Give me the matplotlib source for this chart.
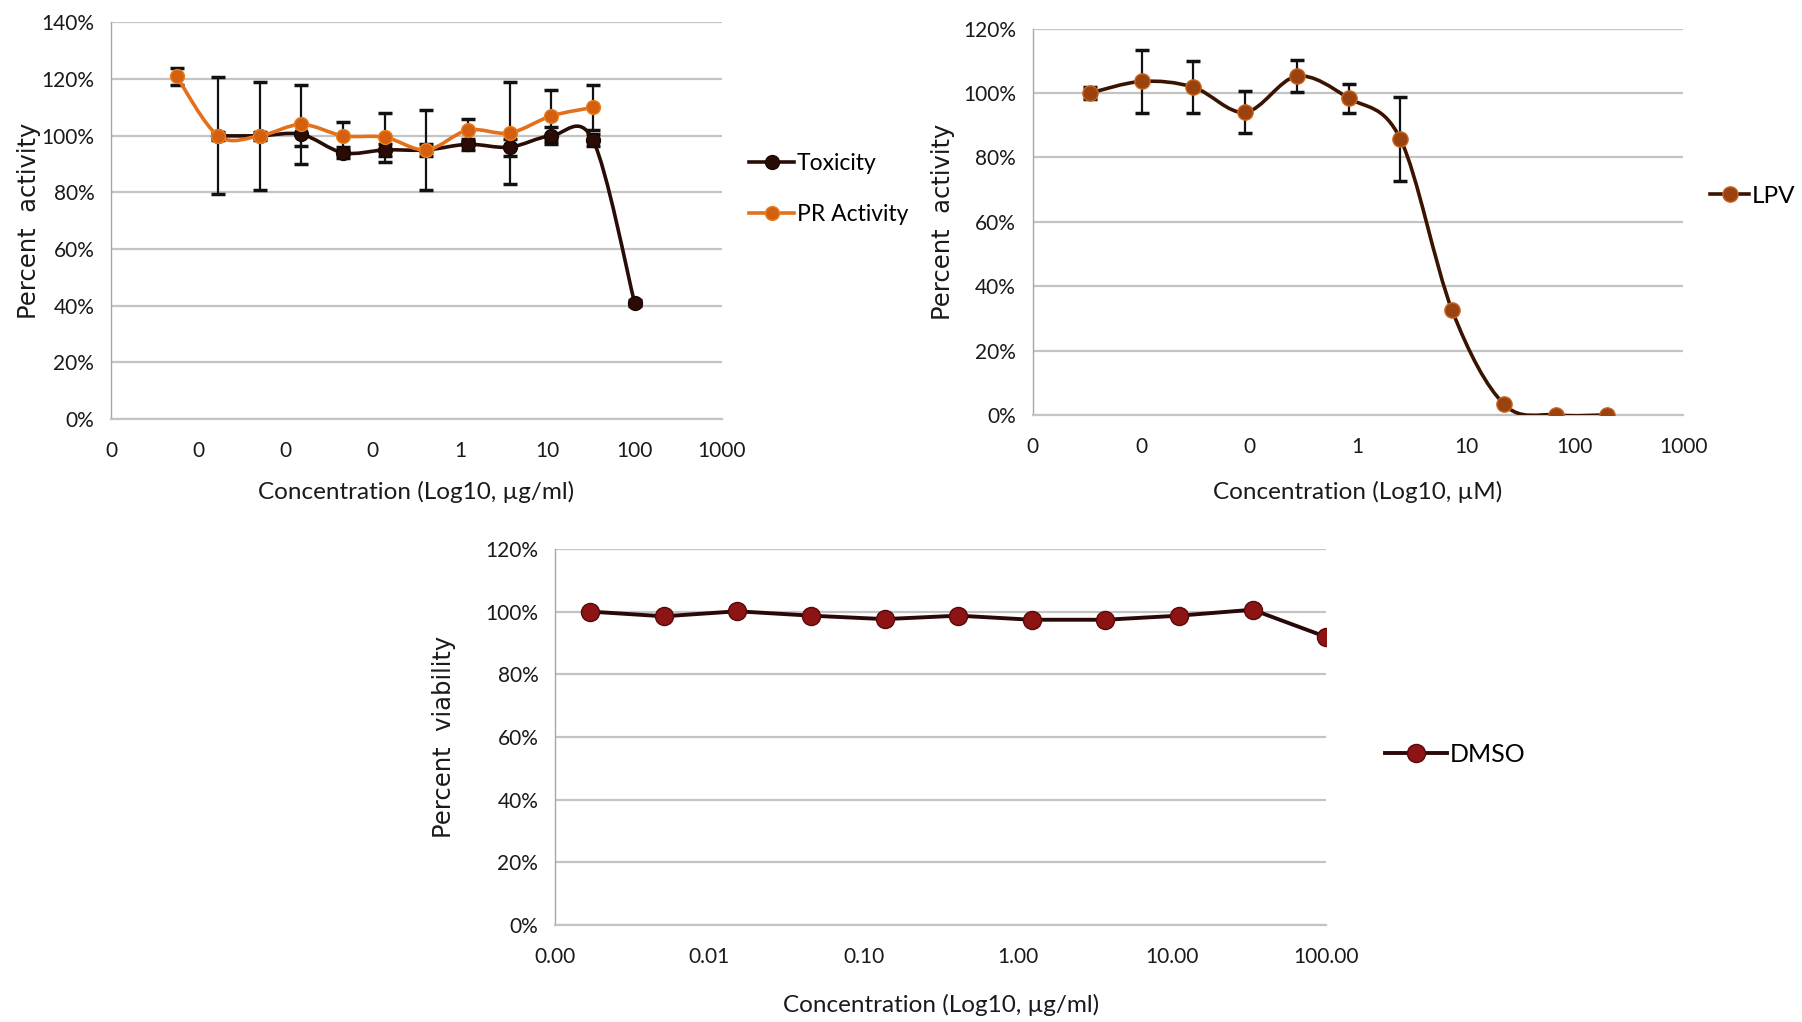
import numpy as np
import matplotlib
matplotlib.use('Agg')
import matplotlib.pyplot as plt
from matplotlib.path import Path
from matplotlib.patches import PathPatch
from matplotlib.lines import Line2D
from matplotlib.ticker import FixedLocator, FuncFormatter, NullLocator

# ---- data ----
# panel A: extract, 3-fold dilutions from 100 ug/ml
conc_a = [0.000565, 0.00169, 0.00508, 0.0152, 0.0457, 0.137, 0.412, 1.23, 3.70, 11.1, 33.3, 100.0]
pr_activity = [121, 100, 100, 104, 100, 99.5, 95, 102, 101, 107, 110]
pr_err = [3, 20.6, 19, 14, 5, 8.7, 14, 4, 18, 9, 8]
toxicity = [100, 100, 100.5, 94, 95, 95, 97, 96, 100, 98.5, 41]
tox_err = [1.5, 1.5, 4, 2, 2, 2, 2, 3, 3, 2, 1]

# panel B: LPV, 3-fold dilutions from 200 uM
conc_b = [0.00339, 0.0102, 0.0305, 0.0914, 0.274, 0.823, 2.47, 7.41, 22.2, 66.7, 200.0]
lpv = [100, 103.6, 101.8, 94, 105.2, 98.4, 85.7, 32.5, 3.4, 0, 0]
lpv_err = [2, 9.7, 8, 6.5, 5, 4.5, 13, 0, 0, 0, 0]

# panel C: DMSO, 3-fold dilutions from 100 ug/ml
conc_c = [0.00169, 0.00508, 0.0152, 0.0457, 0.137, 0.412, 1.23, 3.70, 11.1, 33.3, 100.0]
dmso = [100, 98.5, 100.1, 98.7, 97.6, 98.7, 97.4, 97.4, 98.7, 100.6, 91.9]

TICK_FONT = ['Lato', 'DejaVu Sans']
GRID = '#c4c4c4'


def smooth_line(ax, x, y, color, lw, zorder=3):
    # excel-style smoothed line: cubic bezier through the points in log-x space
    lx = np.log10(np.asarray(x, float))
    yy = np.asarray(y, float)
    pts = np.column_stack([lx, yy])
    n = len(pts)
    verts = [pts[0]]
    codes = [Path.MOVETO]
    for i in range(n - 1):
        p0 = pts[max(i - 1, 0)]
        p1 = pts[i]
        p2 = pts[i + 1]
        p3 = pts[min(i + 2, n - 1)]
        c1 = p1 + (p2 - p0) / 6.0
        c2 = p2 - (p3 - p1) / 6.0
        verts += [c1, c2, p2]
        codes += [Path.CURVE4] * 3
    verts = np.array(verts)
    verts[:, 0] = 10 ** verts[:, 0]
    patch = PathPatch(Path(verts, codes), fill=False, edgecolor=color, lw=lw,
                      zorder=zorder, capstyle='round', joinstyle='round')
    ax.add_patch(patch)


def style_axes(ax, xlim, xticks, xfmt, ymax, xlabel, ylabel, ylab_x, xpad):
    ax.set_xscale('log')
    ax.set_xlim(*xlim)
    ax.set_ylim(0, ymax)
    ax.xaxis.set_major_locator(FixedLocator(xticks))
    ax.xaxis.set_minor_locator(NullLocator())
    ax.xaxis.set_major_formatter(FuncFormatter(lambda v, p: xfmt.format(v)))
    ax.set_yticks(np.arange(0, ymax + 1, 20))
    ax.yaxis.set_major_formatter(FuncFormatter(lambda v, p: f'{v:.0f}%'))
    ax.grid(axis='y', color=GRID, lw=1.6, zorder=0)
    ax.set_axisbelow(True)
    for s in ['top', 'right']:
        ax.spines[s].set_visible(False)
    ax.spines['bottom'].set_color(GRID)
    ax.spines['bottom'].set_linewidth(1.6)
    ax.spines['left'].set_color('#a8a8a8')
    ax.spines['left'].set_linewidth(1.0)
    ax.tick_params(axis='both', length=0, labelsize=15, colors='#1a1a1a')
    ax.tick_params(axis='x', pad=16)
    ax.tick_params(axis='y', pad=12)
    for lab in ax.get_xticklabels() + ax.get_yticklabels():
        lab.set_family(TICK_FONT)
    ax.set_xlabel(xlabel, fontsize=17.5, family=TICK_FONT, color='#1a1a1a', labelpad=xpad)
    ax.set_ylabel(ylabel, fontsize=17.5, family='DejaVu Sans', color='#1a1a1a')
    ax.yaxis.label.set_va('center')
    ax.yaxis.set_label_coords(ylab_x, 0.5)


fig = plt.figure(figsize=(18.02, 10.22), dpi=100)

# ---- panel A ----
ax1 = fig.add_axes([0.0616, 0.590, 0.339, 0.388])
style_axes(ax1, (1e-4, 1e3), [1e-4, 1e-3, 1e-2, 1e-1, 1, 10, 100, 1000], '{:.0f}', 140,
           'Concentration (Log10, µg/ml)', 'Percent  activity', -0.134, 14)
tox_col = '#2a0c06'
pr_col = '#e2701c'
ax1.errorbar(conc_a[:11], pr_activity, yerr=pr_err, fmt='none', ecolor='#111111',
             elinewidth=1.6, capsize=5, capthick=2.5, zorder=2)
ax1.errorbar(conc_a[1:], toxicity, yerr=tox_err, fmt='none', ecolor='#111111',
             elinewidth=1.6, capsize=5, capthick=2.5, zorder=2)
smooth_line(ax1, conc_a[1:], toxicity, tox_col, 2.6, zorder=3)
ax1.plot(conc_a[1:], toxicity, 'o', ls='none', ms=10, mfc='#2a0c06', mec='#1a0500', zorder=4)
smooth_line(ax1, conc_a[:11], pr_activity, pr_col, 2.6, zorder=5)
ax1.plot(conc_a[:11], pr_activity, 'o', ls='none', ms=10, mfc='#d4600f', mec='#e8801f', zorder=6)
h1 = [Line2D([], [], color=tox_col, lw=2.6, marker='o', ms=10, mfc='#2a0c06', mec='#1a0500'),
      Line2D([], [], color=pr_col, lw=2.6, marker='o', ms=10, mfc='#d4600f', mec='#e8801f')]
fig.legend(h1, ['Toxicity', 'PR Activity'], loc='center left', bbox_to_anchor=(0.404, 0.815),
           frameon=False, handlelength=2.0, handletextpad=0.1, labelspacing=1.3,
           prop={'family': TICK_FONT, 'size': 16.5})

# ---- panel B ----
ax2 = fig.add_axes([0.573, 0.594, 0.361, 0.378])
style_axes(ax2, (1e-3, 1e3), [1e-3, 1e-2, 1e-1, 1, 10, 100, 1000], '{:.0f}', 120,
           'Concentration (Log10, µM)', 'Percent  activity', -0.138, 17)
lpv_line = '#3a1400'
lpv_face = '#9a4210'
ax2.errorbar(conc_b, lpv, yerr=lpv_err, fmt='none', ecolor='#111111',
             elinewidth=1.6, capsize=5, capthick=2.5, zorder=2)
smooth_line(ax2, conc_b, lpv, lpv_line, 2.6, zorder=3)
ax2.plot(conc_b, lpv, 'o', ls='none', ms=11, mfc=lpv_face, mec='#c8651e', zorder=4)
h2 = [Line2D([], [], color=lpv_line, lw=2.6, marker='o', ms=11, mfc=lpv_face, mec='#c8651e')]
fig.legend(h2, ['LPV'], loc='center left', bbox_to_anchor=(0.937, 0.808),
           frameon=False, handlelength=1.6, handletextpad=0.1,
           prop={'family': TICK_FONT, 'size': 17.5})

# ---- panel C ----
ax3 = fig.add_axes([0.308, 0.0949, 0.428, 0.368])
style_axes(ax3, (1e-3, 1e2), [1e-3, 1e-2, 1e-1, 1, 10, 100], '{:.2f}', 120,
           'Concentration (Log10, µg/ml)', 'Percent  viability', -0.144, 19)
dmso_line = '#2a0808'
dmso_face = '#8c1414'
ax3.plot(conc_c, dmso, '-', color=dmso_line, lw=2.8, marker='o', ms=13,
         mfc=dmso_face, mec='#5a0808', zorder=3)
h3 = [Line2D([], [], color=dmso_line, lw=2.8, marker='o', ms=13, mfc=dmso_face, mec='#5a0808')]
fig.legend(h3, ['DMSO'], loc='center left', bbox_to_anchor=(0.756, 0.262),
           frameon=False, handlelength=2.5, handletextpad=0.1,
           prop={'family': TICK_FONT, 'size': 18})

fig.savefig('out.png', dpi=100, facecolor='white')
